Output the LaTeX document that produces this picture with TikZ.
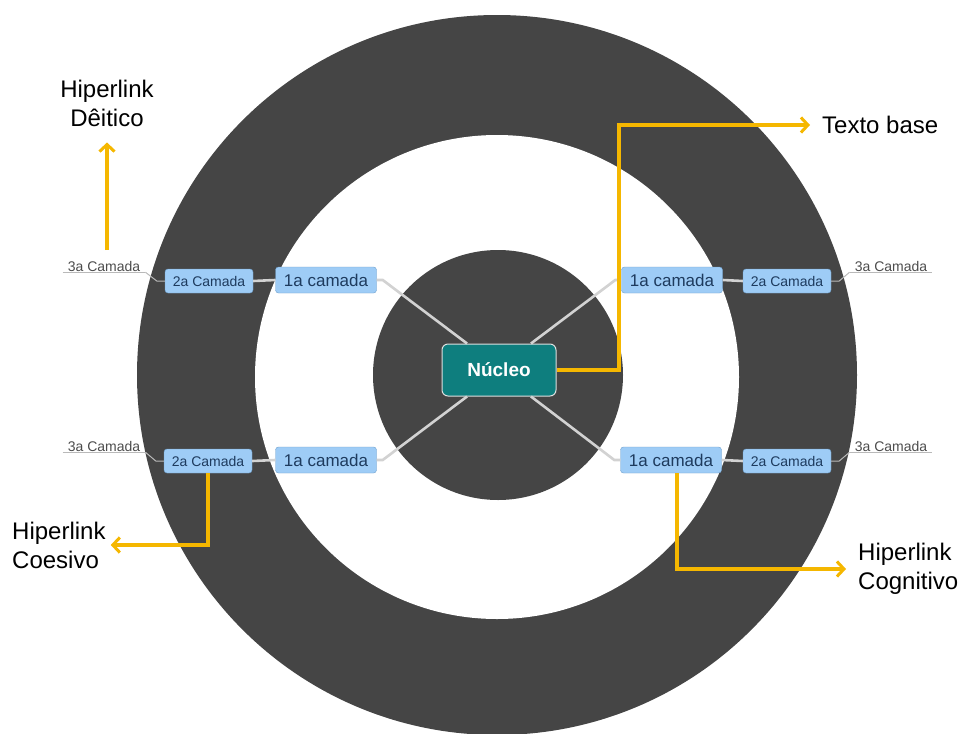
\documentclass[tikz,border=0pt]{standalone}
\usepackage{fontspec}
\setmainfont{Liberation Sans}
\usepackage{tikz}
\usetikzlibrary{arrows.meta}
\definecolor{ring}{HTML}{454545}
\definecolor{corefill}{HTML}{0E7E7E}
\definecolor{boxblue}{HTML}{9ECCF6}
\definecolor{boxline}{HTML}{6F9FCC}
\definecolor{boxtext}{HTML}{1E3B5E}
\definecolor{linkgold}{HTML}{F5B700}
\definecolor{branchgray}{HTML}{D2D2D2}

\begin{document}
\begin{tikzpicture}[x=1pt,y=-1pt,
    layerone/.style={draw=boxline,fill=boxblue,rounded corners=3pt,minimum width=101pt,minimum height=26pt,inner sep=0pt,text=boxtext,font=\fontsize{17}{18}\selectfont},
    layertwo/.style={draw=boxline,fill=boxblue,rounded corners=3pt,minimum width=88pt,minimum height=24pt,inner sep=0pt,text=boxtext,font=\fontsize{14}{15}\selectfont},
    layerthree/.style={anchor=base,inner xsep=5pt,inner ysep=1pt,text depth=0pt,text=gray!60!black,font=\fontsize{14}{15}\selectfont},
    corebox/.style={draw=white!75!gray,line width=1pt,fill=corefill,rounded corners=6pt,minimum width=114pt,minimum height=52pt,text=white,font=\bfseries\fontsize{19}{21}\selectfont},
    linklabel/.style={inner sep=0pt,font=\fontsize{24}{29}\selectfont},
    branch/.style={branchgray,line width=2.6pt},
    thinbranch/.style={gray!55,line width=1pt},
    link/.style={linkgold,line width=3.5pt,-{Straight Barb[length=7pt,width=15pt,line width=3pt]}}]
  \useasboundingbox (0,0) rectangle (962,734);
  % rings
  \fill[ring] (497,375) circle (360pt);
  \fill[white] (497,377) circle (242pt);
  \fill[ring] (498,375) circle (125pt);
  % nodes
  \node[corebox] (nucleo) at (499,370) {Núcleo};
  \node[layerone] (ul1) at (326,280) {1a camada};
  \node[layerone] (ur1) at (672,280) {1a camada};
  \node[layerone] (ll1) at (326,460) {1a camada};
  \node[layerone] (lr1) at (671,460) {1a camada};
  \node[layertwo] (ul2) at (209,281) {2a Camada};
  \node[layertwo] (ur2) at (787,281) {2a Camada};
  \node[layertwo] (ll2) at (208,461) {2a Camada};
  \node[layertwo] (lr2) at (787,461) {2a Camada};
  \node[layerthree] (ul3) at (104,271) {3a Camada};
  \node[layerthree] (ur3) at (891,271) {3a Camada};
  \node[layerthree] (ll3) at (104,451) {3a Camada};
  \node[layerthree] (lr3) at (891,451) {3a Camada};
  % branches
  \draw[branch] (ul1.east) -- ++(6,0) -- ([xshift=-32pt]nucleo.north);
  \draw[branch] (ur1.west) -- ++(-6,0) -- ([xshift=32pt]nucleo.north);
  \draw[branch] (ll1.east) -- ++(6,0) -- ([xshift=-32pt]nucleo.south);
  \draw[branch] (lr1.west) -- ++(-6,0) -- ([xshift=32pt]nucleo.south);
  \draw[branch] (ul2.east) -- (ul1.west);
  \draw[branch] (ur1.east) -- (ur2.west);
  \draw[branch] (ll2.east) -- (ll1.west);
  \draw[branch] (lr1.east) -- (lr2.west);
  \foreach \n in {ul3,ur3,ll3,lr3}
    \draw[thinbranch] (\n.south west) -- (\n.south east);
  \draw[thinbranch] (ul2.west) -- ++(-8,0) -- (ul3.south east);
  \draw[thinbranch] (ll2.west) -- ++(-8,0) -- (ll3.south east);
  \draw[thinbranch] (ur2.east) -- ++(8,0) -- (ur3.south west);
  \draw[thinbranch] (lr2.east) -- ++(8,0) -- (lr3.south west);
  % hyperlinks
  \node[linklabel,anchor=west] (texto) at (822,125) {Texto base};
  \node[linklabel,align=center] (deitico) at (107,103) {Hiperlink\\Dêitico};
  \node[linklabel,align=left,anchor=west] (coesivo) at (12,545) {Hiperlink\\Coesivo};
  \node[linklabel,align=left,anchor=west] (cognitivo) at (858,569) {Hiperlink\\Cognitivo};
  \coordinate (deiticofoot) at (107,250);
  \draw[link,shorten >=12pt] (nucleo.east) -| (619,125) -- (texto.west);
  \draw[link,shorten >=16pt] (deiticofoot) -- (deitico.south);
  \draw[link,shorten >=5pt] (ll2.south) |- (coesivo.east);
  \draw[link,shorten >=12pt] ([xshift=6pt]lr1.south) |- (cognitivo.west);
\end{tikzpicture}
\end{document}
